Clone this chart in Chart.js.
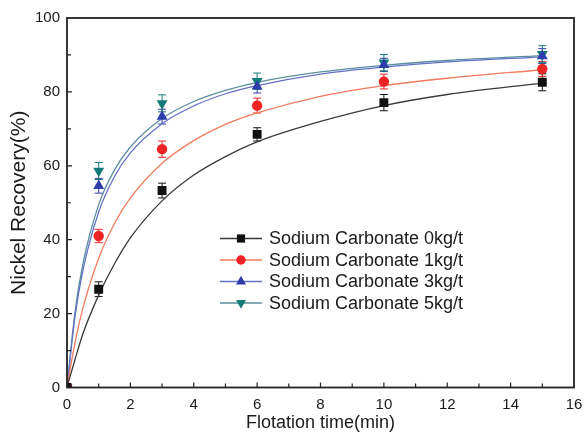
<!DOCTYPE html>
<html>
<head>
<meta charset="utf-8">
<script src="https://cdn.jsdelivr.net/npm/chart.js@4.4.1/dist/chart.umd.min.js"></script>
<style>
  html, body { margin: 0; padding: 0; background: #fff; }
  #wrap { width: 584px; height: 436px; }
</style>
</head>
<body>
<div id="wrap"><canvas id="c" width="584" height="436"></canvas></div>
<script>
// ---- data ----
const seriesNames = ["Sodium Carbonate 0kg/t", "Sodium Carbonate 1kg/t", "Sodium Carbonate 3kg/t", "Sodium Carbonate 5kg/t"];
const timePoints = [0, 1, 3, 6, 10, 15];
const recovery0 = [0, 26.6, 53.3, 68.5, 77.1, 82.6];
const recovery1 = [0, 41.0, 64.5, 76.3, 82.8, 86.2];
const recovery3 = [0, 54.6, 73.3, 81.5, 87.3, 89.7];
const recovery5 = [0, 58.6, 76.9, 82.9, 87.9, 90.2];
const error0 = [0, 2.0, 2.0, 1.8, 2.2, 2.3];
const error1 = [0, 1.8, 2.2, 2.0, 2.0, 2.0];
const error3 = [0, 2.0, 2.0, 1.8, 1.8, 2.0];
const error5 = [0, 2.3, 2.3, 2.2, 2.2, 2.3];
// fitted curves
const curveTime = [0, 0.25, 0.5, 1, 1.5, 2, 3, 4, 5, 6, 8, 10, 12, 15];
const curve0 = [0, 7.5, 14.5, 25.0, 33.5, 40.5, 50.5, 57.5, 62.5, 66.5, 72.0, 76.3, 79.3, 82.4];
const curve1 = [0, 12.0, 21.4, 35.0, 44.4, 51.3, 60.7, 66.8, 71.2, 74.3, 78.8, 81.7, 83.7, 86.0];
const curve3 = [0, 19.0, 31.6, 47.5, 57.1, 63.5, 71.4, 76.2, 79.5, 81.7, 84.8, 86.7, 88.1, 89.5];
const curve5 = [0, 20.3, 33.4, 49.5, 58.9, 65.1, 72.8, 77.4, 80.4, 82.6, 85.4, 87.2, 88.5, 89.8];
const xTicks = [0, 2, 4, 6, 8, 10, 12, 14, 16];
const yTicks = [0, 20, 40, 60, 80, 100];

// ---- styles ----
const markerColors = ["#111111", "#ee2424", "#2e3cab", "#147a78"];
const lineColors = ["#3a3a3a", "#f27a5e", "#6472c6", "#5a8e9e"];
const markerStyles = ["rect", "circle", "triangle", "triangle"];
const markerRot = [0, 0, 0, 180];
const markerRadius = [6.3, 5.2, 6.3, 6.3];
const FONT = '"Liberation Sans", Arial, sans-serif';

const recs = [recovery0, recovery1, recovery3, recovery5];
const errs = [error0, error1, error3, error5];
const curves = [curve0, curve1, curve3, curve5];

const datasets = [];
curves.forEach((cv, i) => {
  datasets.push({
    type: 'line',
    label: seriesNames[i] + ' fit',
    data: curveTime.map((t, k) => ({x: t, y: cv[k]})),
    borderColor: lineColors[i],
    borderWidth: 1.3,
    pointRadius: 0,
    cubicInterpolationMode: 'monotone',
    fill: false,
    order: 2
  });
});
recs.forEach((r, i) => {
  datasets.push({
    type: 'scatter',
    label: seriesNames[i],
    data: timePoints.map((t, k) => ({x: t, y: r[k]})),
    errors: errs[i],
    backgroundColor: markerColors[i],
    borderColor: markerColors[i],
    borderWidth: 0,
    pointStyle: markerStyles[i],
    rotation: markerRot[i],
    pointRadius: markerRadius[i],
    pointHoverRadius: markerRadius[i],
    showLine: false,
    clip: 0,
    order: 1,
    isMarker: true
  });
});

const errorBarPlugin = {
  id: 'errorBars',
  beforeDatasetsDraw(chart) {
    const ctx = chart.ctx;
    const xs = chart.scales.x, ys = chart.scales.y;
    ctx.save();
    chart.data.datasets.forEach(ds => {
      if (!ds.isMarker) return;
      ctx.strokeStyle = ds.borderColor;
      ctx.lineWidth = 1;
      ds.data.forEach((p, k) => {
        const e = ds.errors[k];
        if (!e) return;
        const px = xs.getPixelForValue(p.x);
        const y1 = ys.getPixelForValue(p.y + e);
        const y2 = ys.getPixelForValue(p.y - e);
        ctx.beginPath();
        ctx.moveTo(px, y1); ctx.lineTo(px, y2);
        ctx.moveTo(px - 4, y1); ctx.lineTo(px + 4, y1);
        ctx.moveTo(px - 4, y2); ctx.lineTo(px + 4, y2);
        ctx.stroke();
      });
    });
    ctx.restore();
  }
};

const framePlugin = {
  id: 'frame',
  afterDatasetsDraw(chart) {
    const ctx = chart.ctx;
    const a = chart.chartArea;
    const xs = chart.scales.x, ys = chart.scales.y;
    ctx.save();
    ctx.strokeStyle = '#222';
    ctx.lineWidth = 1.8;
    ctx.strokeRect(a.left, a.top, a.right - a.left, a.bottom - a.top);
    ctx.lineWidth = 1.2;
    ctx.beginPath();
    for (let v = 1; v < 16; v++) {
      const px = xs.getPixelForValue(v);
      const len = v % 2 === 0 ? 5 : 4;
      ctx.moveTo(px, a.bottom); ctx.lineTo(px, a.bottom - len);
    }
    for (let v = 10; v < 100; v += 10) {
      const py = ys.getPixelForValue(v);
      const len = v % 20 === 0 ? 5 : 4;
      ctx.moveTo(a.left, py); ctx.lineTo(a.left + len, py);
    }
    ctx.stroke();
    ctx.restore();
  }
};

const legendPlugin = {
  id: 'customLegend',
  afterDraw(chart) {
    const ctx = chart.ctx;
    const rows = [238.5, 260, 281.5, 303];
    ctx.save();
    ctx.font = '18px ' + FONT;
    ctx.textBaseline = 'middle';
    seriesNames.forEach((name, i) => {
      const y = rows[i];
      ctx.strokeStyle = lineColors[i];
      ctx.lineWidth = 1.3;
      ctx.beginPath();
      ctx.moveTo(220, y); ctx.lineTo(262, y);
      ctx.stroke();
      ctx.fillStyle = markerColors[i];
      ctx.strokeStyle = markerColors[i];
      Chart.helpers.drawPoint(ctx, {pointStyle: markerStyles[i], rotation: markerRot[i], radius: markerRadius[i] - 0.5, borderWidth: 0}, 241, y);
      ctx.fillStyle = '#1a1a1a';
      ctx.fillText(name, 269, y + 1);
    });
    ctx.restore();
  }
};

new Chart(document.getElementById('c'), {
  data: { datasets },
  options: {
    responsive: false,
    animation: false,
    events: [],
    layout: { padding: { top: 18, right: 10, left: 0, bottom: 0 } },
    plugins: { legend: { display: false }, tooltip: { enabled: false } },
    scales: {
      x: {
        type: 'linear', min: 0, max: 16,
        afterBuildTicks(s) { s.ticks = xTicks.map(v => ({value: v})); },
        afterFit(s) { s.height = 48.5; s.paddingLeft = 0; s.paddingRight = 0; },
        grid: { display: false, drawTicks: false },
        border: { display: false },
        ticks: { padding: 8, color: '#1a1a1a', font: { family: FONT, size: 15 }, maxRotation: 0 },
        title: { display: true, text: 'Flotation time(min)', color: '#1a1a1a', font: { family: FONT, size: 18 }, padding: { top: 0, bottom: 2 } }
      },
      y: {
        type: 'linear', min: 0, max: 100,
        afterBuildTicks(s) { s.ticks = yTicks.map(v => ({value: v})); },
        afterFit(s) { s.width = 67; s.paddingTop = 0; s.paddingBottom = 0; },
        grid: { display: false, drawTicks: false },
        border: { display: false },
        ticks: { padding: 7, color: '#1a1a1a', font: { family: FONT, size: 15 } },
        title: { display: true, text: 'Nickel Recovery(%)', color: '#1a1a1a', font: { family: FONT, size: 21 }, padding: { top: 7, bottom: 0 } }
      }
    }
  },
  plugins: [errorBarPlugin, framePlugin, legendPlugin]
});
</script>
</body>
</html>
